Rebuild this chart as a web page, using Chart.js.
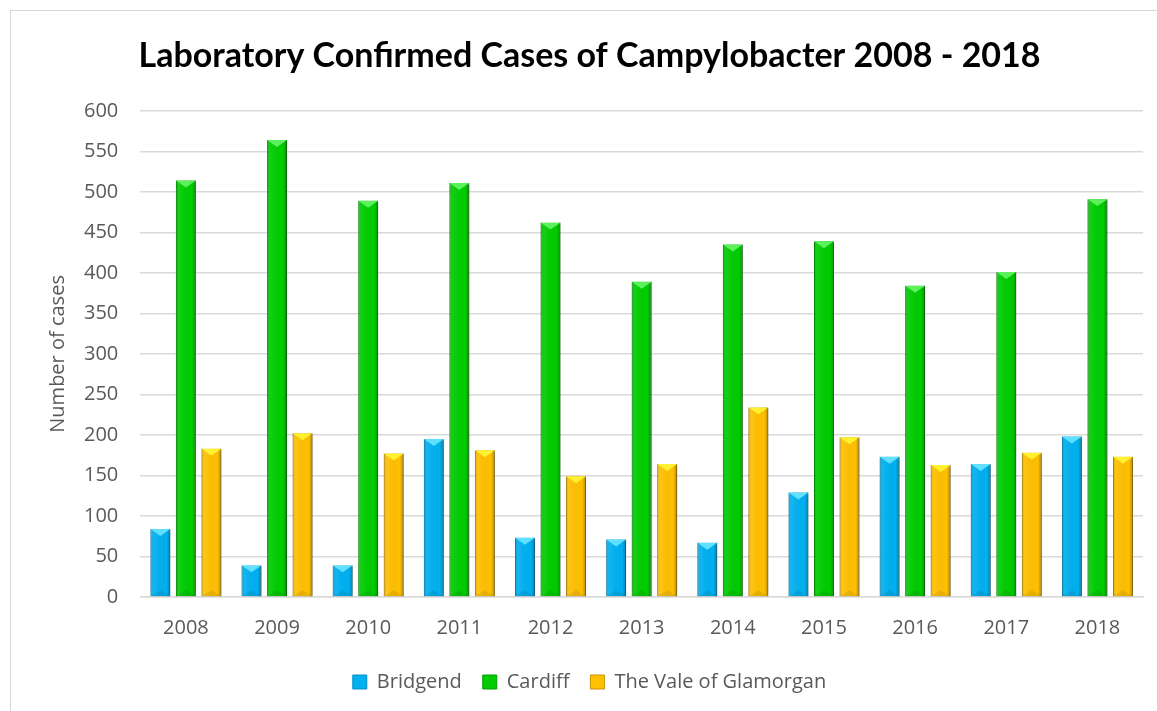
<!DOCTYPE html>
<html>
<head>
<meta charset="utf-8">
<script src="https://cdn.jsdelivr.net/npm/chart.js@4/dist/chart.umd.min.js"></script>
<style>
    html, body { margin: 0; padding: 0; background: #fff; }
    #wrap { width: 1157px; height: 711px; position: relative; }
</style>
</head>
<body>
<div id="wrap"><canvas id="chart" width="1157" height="711"></canvas></div>
<script>
const years = ["2008", "2009", "2010", "2011", "2012", "2013", "2014", "2015", "2016", "2017", "2018"];
const bridgend = [84, 39, 39, 195, 73, 71, 67, 129, 173, 164, 198];
const cardiff = [514, 564, 489, 511, 462, 389, 435, 439, 384, 401, 491];
const vale = [183, 202, 177, 181, 149, 164, 234, 197, 163, 178, 173];

const textGrey = "#595959";
const gridGrey = "#d9d9d9";

// light top + darker sides, so the bars look a bit like the bevelled excel ones
const bevel = {
    id: "bevel",
    beforeDatasetDraw(chart) {
        const ctx = chart.ctx;
        ctx.save();
        ctx.shadowColor = "rgba(0,0,0,0.25)";
        ctx.shadowBlur = 4;
        ctx.shadowOffsetX = 2;
        ctx.shadowOffsetY = 1;
    },
    afterDatasetDraw(chart, args) {
        const ctx = chart.ctx;
        ctx.restore();
        const ds = chart.data.datasets[args.index];
        args.meta.data.forEach(bar => {
            const w = bar.width, x0 = bar.x - w / 2, x1 = bar.x + w / 2;
            const top = bar.y, base = bar.base;
            const g = ctx.createLinearGradient(x0, 0, x1, 0);
            g.addColorStop(0, "rgba(0,0,0,0.18)");
            g.addColorStop(0.15, "rgba(255,255,255,0.08)");
            g.addColorStop(0.8, "rgba(0,0,0,0.0)");
            g.addColorStop(1, "rgba(0,0,0,0.28)");
            ctx.fillStyle = g;
            ctx.fillRect(x0, top, w, base - top);
            ctx.beginPath();
            ctx.moveTo(x0, top);
            ctx.lineTo(x1, top);
            ctx.lineTo(bar.x, top + w * 0.35);
            ctx.closePath();
            ctx.fillStyle = ds.topColor;
            ctx.fill();
            ctx.beginPath();
            ctx.moveTo(x0, base);
            ctx.lineTo(x1, base);
            ctx.lineTo(bar.x, base - w * 0.3);
            ctx.closePath();
            ctx.fillStyle = "rgba(0,0,0,0.08)";
            ctx.fill();
        });
    }
};

const frame = {
    id: "frame",
    beforeDraw(chart) {
        const ctx = chart.ctx;
        ctx.save();
        ctx.fillStyle = "#fff";
        ctx.fillRect(0, 0, chart.width, chart.height);
        ctx.strokeStyle = gridGrey;
        ctx.lineWidth = 1;
        ctx.strokeRect(10.5, 10.5, chart.width + 20, chart.height + 20);
        ctx.restore();
    }
};

const ctx = document.getElementById("chart").getContext("2d");
new Chart(ctx, {
    type: "bar",
    data: {
        labels: years,
        datasets: [
            { label: "Bridgend", data: bridgend, backgroundColor: "#00b0f0", borderColor: "#0090c8", borderWidth: 1, topColor: "#5fe0ff" },
            { label: "Cardiff", data: cardiff, backgroundColor: "#00cc00", borderColor: "#00a000", borderWidth: 1, topColor: "#5cf05c" },
            { label: "The Vale of Glamorgan", data: vale, backgroundColor: "#ffc000", borderColor: "#c89400", borderWidth: 1, topColor: "#fff030" }
        ]
    },
    options: {
        responsive: false,
        animation: false,
        categoryPercentage: 0.84,
        barPercentage: 0.78,
        layout: { padding: { left: 36, right: 14, top: 18, bottom: 9 } },
        scales: {
            x: {
                grid: { display: false },
                border: { color: gridGrey, width: 1.5 },
                ticks: { color: textGrey, font: { family: "Open Sans", size: 20 }, padding: 11 }
            },
            y: {
                min: 0,
                max: 600,
                ticks: { stepSize: 50, color: textGrey, font: { family: "Open Sans", size: 20 }, padding: 22 },
                grid: { color: gridGrey, lineWidth: 1.5, drawTicks: false },
                border: { display: false },
                title: { display: true, text: "Number of cases", color: textGrey, font: { family: "Open Sans", size: 20 }, padding: { top: 10, bottom: -8 } }
            }
        },
        plugins: {
            title: {
                display: true,
                text: "Laboratory Confirmed Cases of Campylobacter 2008 - 2018",
                color: "#000",
                font: { family: "Lato", size: 34, weight: "bold" },
                padding: { top: 18, bottom: 34 }
            },
            legend: {
                position: "bottom",
                labels: { color: textGrey, font: { family: "Open Sans", size: 20 }, boxWidth: 14, boxHeight: 14, padding: 21 }
            },
            tooltip: { enabled: false }
        }
    },
    plugins: [frame, bevel]
});
</script>
</body>
</html>
